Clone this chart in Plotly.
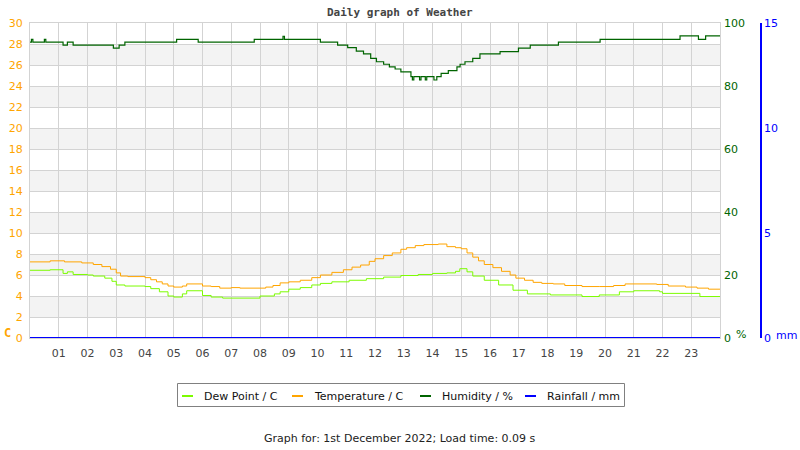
import plotly.graph_objects as go

# ---- data ----
temp_hours = [0, 0.7, 1.2, 1.8, 2.2, 2.5, 2.8, 3.0, 3.15, 3.4, 4.0, 4.2, 4.4, 4.6, 4.8, 5.0, 5.3, 5.45,
              6.0, 6.3, 6.6, 7.0, 7.3, 8.2, 8.45, 8.7, 9.0, 9.4, 9.8, 10.1, 10.5, 10.9, 11.2, 11.5, 11.8,
              12.0, 12.3, 12.6, 12.9, 13.1, 13.4, 13.7, 14.2, 14.5, 14.8, 15.0, 15.2, 15.4, 15.6, 15.8,
              16.1, 16.4, 16.7, 16.9, 17.2, 17.5, 17.8, 18.2, 18.6, 19.2, 19.8, 20.3, 20.7, 21.8, 22.2,
              22.8, 23.2, 23.6, 24]
temp_vals = [7.25, 7.35, 7.25, 7.15, 7.0, 6.8, 6.55, 6.2, 5.9, 5.85, 5.75, 5.55, 5.35, 5.15, 4.95, 4.85,
             4.95, 5.15, 4.95, 4.9, 4.75, 4.8, 4.75, 4.85, 5.0, 5.25, 5.35, 5.5, 5.75, 6.0, 6.25, 6.5,
             6.75, 6.95, 7.3, 7.55, 7.85, 8.1, 8.45, 8.6, 8.8, 8.9, 8.95, 8.7, 8.6, 8.5, 8.1, 7.7, 7.35,
             7.0, 6.7, 6.35, 6.0, 5.7, 5.5, 5.3, 5.2, 5.15, 5.0, 4.9, 4.9, 5.0, 5.15, 5.1, 4.95, 4.85,
             4.75, 4.65, 4.65]

dew_hours = [0, 0.7, 1.15, 1.3, 1.5, 2.0, 2.2, 2.6, 2.85, 3.0, 3.3, 4.0, 4.2, 4.5, 4.8, 5.0, 5.3, 5.45,
             6.0, 6.3, 6.7, 8.0, 8.5, 8.7, 9.0, 9.4, 9.8, 10.1, 10.5, 11.1, 11.7, 12.3, 12.9, 13.5, 14.0,
             14.5, 14.8, 14.95, 15.2, 15.4, 15.8, 16.3, 16.8, 17.3, 18.1, 19.2, 19.8, 20.5, 21.0, 21.9,
             22.0, 23.3, 24]
dew_vals = [6.45, 6.5, 6.15, 6.3, 6.05, 6.0, 5.9, 5.7, 5.4, 5.05, 4.95, 4.9, 4.7, 4.4, 4.0, 3.9, 4.2,
            4.5, 4.05, 3.9, 3.8, 4.0, 4.2, 4.4, 4.65, 4.8, 5.05, 5.2, 5.35, 5.5, 5.65, 5.8, 5.95, 6.05,
            6.15, 6.2, 6.35, 6.6, 6.3, 5.9, 5.5, 5.05, 4.55, 4.2, 4.1, 3.95, 4.1, 4.4, 4.5, 4.4, 4.25,
            3.95, 3.95]

hum_hours = [0, 0.05, 0.1, 0.5, 0.55, 1.15, 1.3, 1.5, 2.9, 3.1, 3.3, 5.1, 5.85, 7.8, 8.8, 8.85, 10.1,
             10.7, 11.05, 11.35, 11.6, 11.85, 12.05, 12.3, 12.5, 12.7, 12.9, 13.25, 13.3, 13.35, 13.55,
             13.6, 13.75, 13.8, 14.05, 14.15, 14.3, 14.55, 14.85, 14.96, 15.13, 15.4, 15.65, 16.35,
             16.99, 17.4, 18.38, 19.83, 22.61, 23.25, 23.5, 24]
hum_vals = [93.9, 94.8, 93.9, 94.8, 93.9, 93.0, 93.9, 93.0, 92.0, 93.0, 93.9, 94.8, 93.9, 94.8, 95.8,
            94.8, 93.9, 93.0, 92.2, 91.1, 90.2, 88.8, 87.7, 86.9, 86.1, 85.4, 84.5, 83.0, 81.9, 83.0,
            81.9, 83.0, 81.9, 83.0, 81.9, 83.0, 84.0, 84.9, 86.1, 86.9, 87.7, 88.8, 90.2, 90.9, 92.0,
            93.0, 93.9, 94.8, 95.9, 94.8, 95.9, 95.9]

rain_hours = [0, 24]
rain_vals = [0, 0]

hour_ticks = list(range(1, 24))
hour_labels = ["%02d" % h for h in hour_ticks]
temp_ticks = list(range(0, 31, 2))
hum_ticks = [0, 20, 40, 60, 80, 100]
rain_ticks = [0, 5, 10, 15]

series_names = ["Dew Point / C", "Temperature / C", "Humidity / %", "Rainfall / mm"]

ORANGE = "#ffa500"
LIME = "#7cfc00"
DKGREEN = "#006400"
BLUE = "#0000ff"
GRID = "#d3d3d3"
FONT = "DejaVu Sans"
COLORS = [LIME, ORANGE, DKGREEN, BLUE]

fig = go.Figure()
fig.add_trace(go.Scatter(x=dew_hours, y=dew_vals, mode="lines", line=dict(color=LIME, width=1, shape="hv"),
                         name=series_names[0], showlegend=False))
fig.add_trace(go.Scatter(x=temp_hours, y=temp_vals, mode="lines", line=dict(color=ORANGE, width=1, shape="hv"),
                         name=series_names[1], showlegend=False))
fig.add_trace(go.Scatter(x=hum_hours, y=hum_vals, mode="lines", line=dict(color=DKGREEN, width=1.2, shape="hv"),
                         name=series_names[2], yaxis="y2", showlegend=False))
fig.add_trace(go.Scatter(x=rain_hours, y=rain_vals, mode="lines", line=dict(color=BLUE, width=2, shape="hv"),
                         name=series_names[3], yaxis="y3", showlegend=False))

W_PAPER = 731.0
H_PAPER = 315.0
def px(x):
    return (x - 30) / W_PAPER
def py(y):
    return (338 - y) / H_PAPER

# alternating background bands
shapes = []
for lo in range(2, 30, 4):
    shapes.append(dict(type="rect", xref="x", yref="y", x0=0, x1=24, y0=lo, y1=lo + 2,
                       fillcolor="#f3f3f3", line=dict(width=0), layer="below"))

# legend box (drawn)
shapes.append(dict(type="rect", xref="paper", yref="paper", x0=px(177.5), x1=px(624.5),
                   y0=py(406.5), y1=py(383.5), line=dict(color="#808080", width=1), fillcolor="white"))
swatch_x = [182, 292, 420, 525]
for sx, c in zip(swatch_x, COLORS):
    shapes.append(dict(type="line", xref="paper", yref="paper", x0=px(sx), x1=px(sx + 11),
                       y0=py(396), y1=py(396), line=dict(color=c, width=2)))
fig.update_layout(shapes=shapes)

dom_end = 690 / W_PAPER
fig.update_layout(
    width=800, height=450,
    margin=dict(l=30, r=39, t=23, b=112, autoexpand=False),
    paper_bgcolor="white", plot_bgcolor="white",
    font=dict(family=FONT, size=11, color="#444"),
    xaxis=dict(domain=[0, dom_end], range=[0, 24], tickvals=hour_ticks, ticktext=hour_labels,
               showgrid=True, gridcolor=GRID, gridwidth=1, zeroline=False, automargin=False,
               showline=True, linecolor=GRID, mirror=True, ticks="", ticklabelstandoff=5,
               tickfont=dict(color="#444", size=11, family=FONT)),
    yaxis=dict(range=[0, 30], tickvals=temp_ticks, showgrid=True, gridcolor=GRID, zeroline=False,
               automargin=False,
               showline=True, linecolor=GRID, mirror=True, ticks="", ticklabelstandoff=4,
               tickfont=dict(color=ORANGE, size=11, family=FONT)),
    yaxis2=dict(overlaying="y", side="right", anchor="x", range=[0, 100], tickvals=hum_ticks,
                automargin=False,
                showgrid=False, zeroline=False, showline=False, ticks="", ticklabelstandoff=3,
                tickfont=dict(color=DKGREEN, size=11, family=FONT)),
    yaxis3=dict(overlaying="y", side="right", anchor="free", position=1.0, range=[0, 15],
                automargin=False,
                tickvals=rain_ticks, showgrid=False, zeroline=False, showline=True, linecolor=BLUE,
                linewidth=1.5, ticks="", tickfont=dict(color=BLUE, size=11, family=FONT)),
    showlegend=False,
)

# legend labels
text_x = [202, 312, 440, 545]
for tx, name in zip(text_x, series_names):
    fig.add_annotation(text=name, xref="paper", yref="paper", x=px(tx), y=py(396),
                       xanchor="left", yanchor="middle", showarrow=False,
                       font=dict(family=FONT, size=11, color="#111"))

fig.add_annotation(text="<b>Daily graph of Weather</b>", xref="paper", yref="paper",
                   x=px(400), y=py(13), xanchor="center", yanchor="middle", showarrow=False,
                   font=dict(family="DejaVu Sans Mono", size=11, color="#444"))
fig.add_annotation(text="Graph for: 1st December 2022; Load time: 0.09 s", xref="paper", yref="paper",
                   x=px(400), y=py(438), xanchor="center", yanchor="middle", showarrow=False,
                   font=dict(family=FONT, size=11, color="#222"))
fig.add_annotation(text="<b>C</b>", xref="paper", yref="paper", x=px(2), y=py(333),
                   xanchor="left", yanchor="middle",
                   showarrow=False, font=dict(family="DejaVu Sans Mono", size=12, color=ORANGE))
fig.add_annotation(text="%", xref="paper", yref="paper", x=px(734), y=py(334),
                   xanchor="left", yanchor="middle",
                   showarrow=False, font=dict(family=FONT, size=11, color=DKGREEN))
fig.add_annotation(text="mm", xref="paper", yref="paper", x=px(774), y=py(335),
                   xanchor="left", yanchor="middle",
                   showarrow=False, font=dict(family=FONT, size=11, color=BLUE))

fig.write_html("out.html")
